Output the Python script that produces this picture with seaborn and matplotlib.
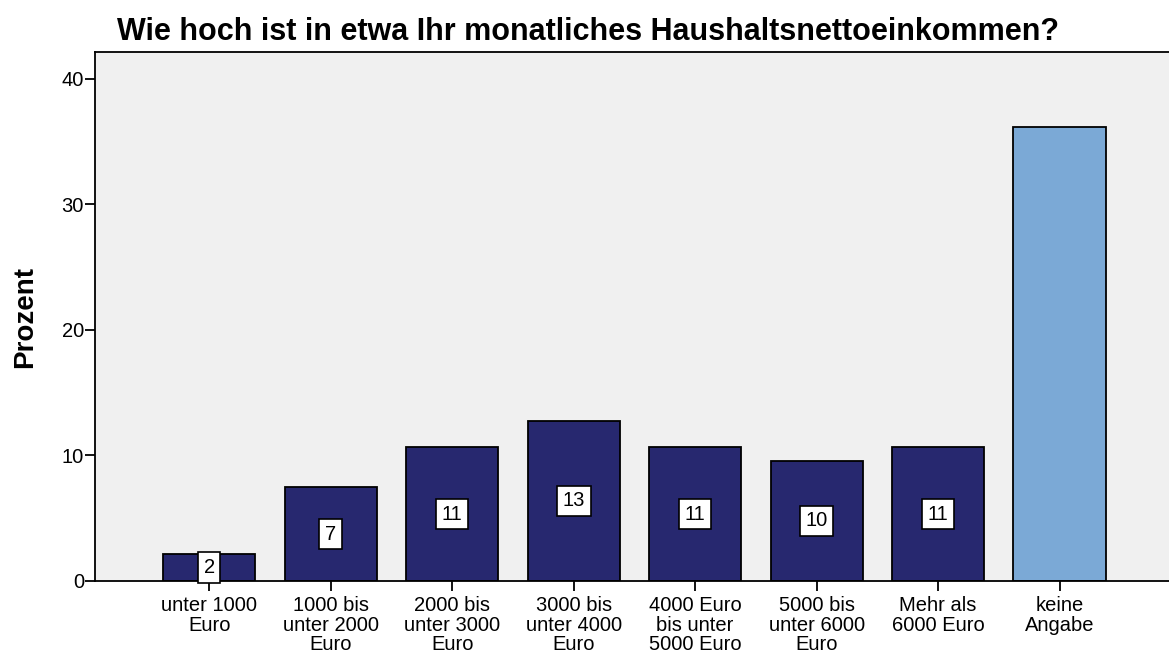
import numpy as np
import matplotlib
matplotlib.use("Agg")
import matplotlib.pyplot as plt
import seaborn as sns

# data (percent of respondents)
categories = ["unter 1000\nEuro", "1000 bis\nunter 2000\nEuro", "2000 bis\nunter 3000\nEuro",
              "3000 bis\nunter 4000\nEuro", "4000 Euro\nbis unter\n5000 Euro", "5000 bis\nunter 6000\nEuro",
              "Mehr als\n6000 Euro", "keine\nAngabe"]
percent = [2.13, 7.45, 10.64, 12.77, 10.64, 9.57, 10.64, 36.17]
show_label = [True, True, True, True, True, True, True, False]
yticks = [0, 10, 20, 30, 40]

navy = "#27286F"
light = "#7BA9D6"
colors = [navy] * 7 + [light]

sns.set_style("ticks")
plt.rcParams['font.family'] = ['Liberation Sans', 'DejaVu Sans']
plt.rcParams['text.color'] = 'black'
plt.rcParams['xtick.color'] = 'black'
plt.rcParams['ytick.color'] = 'black'
plt.rcParams['axes.labelcolor'] = 'black'

fig = plt.figure(figsize=(11.69, 6.57), dpi=100)
ax = fig.add_axes([95 / 1169, 1 - 581 / 657, 1 - 95 / 1169, (581 - 52) / 657])
ax.set_facecolor("#F0F0F0")

sns.barplot(x=categories, y=percent, hue=categories, palette=colors, legend=False,
            width=0.76, edgecolor="black", linewidth=1.3, saturation=1, ax=ax)

# value boxes in the middle of each bar
for i, (v, s) in enumerate(zip(percent, show_label)):
    if s:
        ax.text(i, v / 2, f"{v:.0f}", ha="center", va="center", fontsize=14.5,
                bbox=dict(boxstyle="square,pad=0.28", facecolor="white", edgecolor="black", linewidth=1.2))

ax.set_xlim(-0.94, 7.9)
ax.set_ylim(0, 42.15)
ax.set_yticks(yticks)
ax.tick_params(axis="both", labelsize=14.5, length=7, width=1.3, color="black", pad=1)
ax.tick_params(axis="x", pad=4)
for lab in ax.get_xticklabels():
    lab.set_linespacing(1.02)

for sp in ["left", "bottom", "top"]:
    ax.spines[sp].set_visible(True)
    ax.spines[sp].set_color("black")
    ax.spines[sp].set_linewidth(1.3)
ax.spines["right"].set_visible(False)

ax.set_xlabel("")
ax.set_ylabel("Prozent", fontsize=20, fontweight="bold", labelpad=17)
fig.text(0.503, 0.952, "Wie hoch ist in etwa Ihr monatliches Haushaltsnettoeinkommen?",
         ha="center", va="center", fontsize=22, fontweight="bold")

fig.savefig("out.png", dpi=100)
